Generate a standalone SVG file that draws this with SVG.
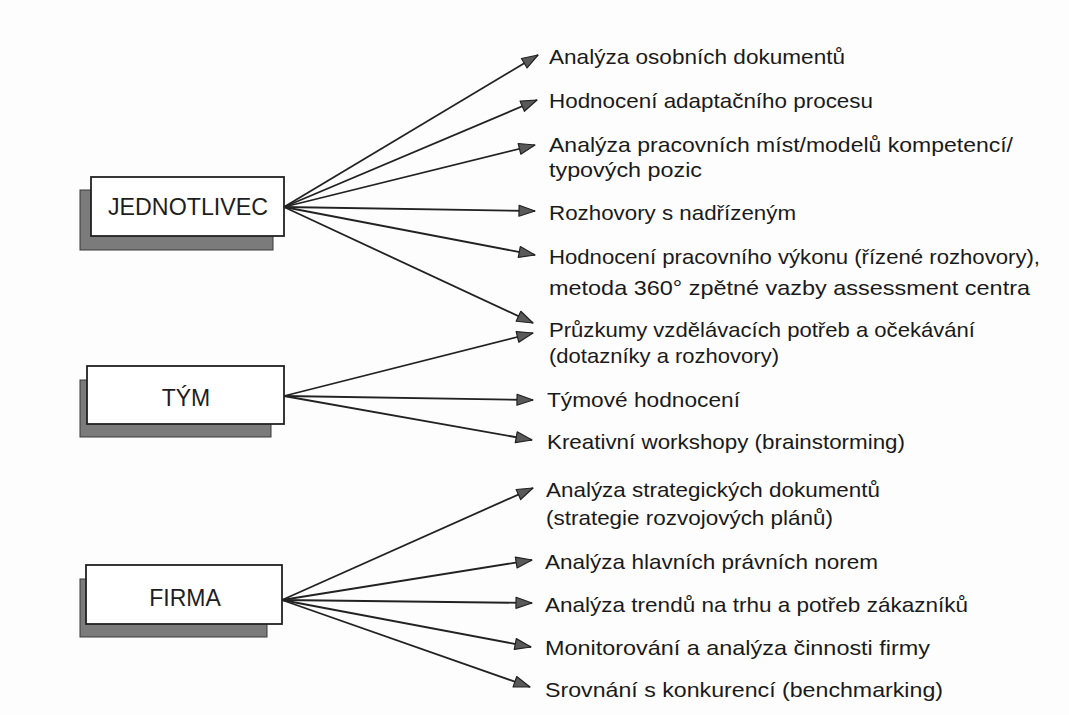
<svg xmlns="http://www.w3.org/2000/svg" width="1069" height="715" viewBox="0 0 1069 715">
<style>
.bg{fill:#fdfdfd}
.shadow{fill:#7b7b7b;stroke:#3a3a3a;stroke-width:1}
.box{fill:#ffffff;stroke:#222;stroke-width:1.8}
.lbl{font-family:"Liberation Sans",Arial,sans-serif;font-size:23px;fill:#1e1e1e;text-anchor:middle}
.t{font-family:"Liberation Sans",Arial,sans-serif;font-size:21px;fill:#1a1a1a}
.c{stroke:#222;stroke-width:1.8;fill:none;marker-end:url(#ah)}
</style>
<defs>
<marker id="ah" viewBox="0 0 18 14" refX="17" refY="7" markerWidth="18" markerHeight="14" markerUnits="userSpaceOnUse" orient="auto">
<path d="M1,1.5 L17,7 L1,12.5 Z" fill="#595959" stroke="#222" stroke-width="1.2" stroke-linejoin="round"/>
</marker>
</defs>
<rect class="bg" x="0" y="0" width="1069" height="715"/>
<g id="jednotlivec">
<rect class="shadow" x="80" y="190" width="193" height="60"/>
<rect class="box" x="91" y="177" width="193" height="59"/>
<text class="lbl" x="188" y="215" textLength="160" lengthAdjust="spacingAndGlyphs">JEDNOTLIVEC</text>
</g>
<g id="tym">
<rect class="shadow" x="80" y="380" width="191" height="57"/>
<rect class="box" x="87" y="366" width="197" height="58"/>
<text class="lbl" x="186" y="406">TÝM</text>
</g>
<g id="firma">
<rect class="shadow" x="80" y="579" width="187" height="58"/>
<rect class="box" x="86" y="565" width="196" height="59"/>
<text class="lbl" x="185" y="606">FIRMA</text>
</g>
<g id="connectors">
<line class="c" x1="284" y1="207" x2="538" y2="55"/>
<line class="c" x1="284" y1="207" x2="537" y2="100"/>
<line class="c" x1="284" y1="207" x2="535" y2="145"/>
<line class="c" x1="284" y1="207" x2="535" y2="211"/>
<line class="c" x1="284" y1="207" x2="535" y2="255"/>
<line class="c" x1="284" y1="207" x2="533" y2="323"/>
<line class="c" x1="284" y1="396" x2="533" y2="333"/>
<line class="c" x1="284" y1="396" x2="533" y2="400"/>
<line class="c" x1="284" y1="396" x2="532" y2="440"/>
<line class="c" x1="282" y1="600" x2="533" y2="488"/>
<line class="c" x1="282" y1="600" x2="532" y2="560"/>
<line class="c" x1="282" y1="600" x2="532" y2="603"/>
<line class="c" x1="282" y1="600" x2="531" y2="647"/>
<line class="c" x1="282" y1="600" x2="530" y2="687"/>
</g>
<g id="items">
<text class="t" x="549" y="64" textLength="296" lengthAdjust="spacingAndGlyphs">Analýza osobních dokumentů</text>
<text class="t" x="549" y="108" textLength="324" lengthAdjust="spacingAndGlyphs">Hodnocení adaptačního procesu</text>
<text class="t" x="549" y="152" textLength="464" lengthAdjust="spacingAndGlyphs">Analýza pracovních míst/modelů kompetencí/</text>
<text class="t" x="549" y="177" textLength="153" lengthAdjust="spacingAndGlyphs">typových pozic</text>
<text class="t" x="549" y="220" textLength="247" lengthAdjust="spacingAndGlyphs">Rozhovory s nadřízeným</text>
<text class="t" x="549" y="264" textLength="491" lengthAdjust="spacingAndGlyphs">Hodnocení pracovního výkonu (řízené rozhovory),</text>
<text class="t" x="549" y="295" textLength="481" lengthAdjust="spacingAndGlyphs">metoda 360° zpětné vazby assessment centra</text>
<text class="t" x="549" y="337" textLength="426" lengthAdjust="spacingAndGlyphs">Průzkumy vzdělávacích potřeb a očekávání</text>
<text class="t" x="549" y="363" textLength="230" lengthAdjust="spacingAndGlyphs">(dotazníky a rozhovory)</text>
<text class="t" x="547" y="407" textLength="193" lengthAdjust="spacingAndGlyphs">Týmové hodnocení</text>
<text class="t" x="547" y="449" textLength="358" lengthAdjust="spacingAndGlyphs">Kreativní workshopy (brainstorming)</text>
<text class="t" x="546" y="497" textLength="334" lengthAdjust="spacingAndGlyphs">Analýza strategických dokumentů</text>
<text class="t" x="546" y="525" textLength="287" lengthAdjust="spacingAndGlyphs">(strategie rozvojových plánů)</text>
<text class="t" x="545" y="569" textLength="333" lengthAdjust="spacingAndGlyphs">Analýza hlavních právních norem</text>
<text class="t" x="545" y="612" textLength="423" lengthAdjust="spacingAndGlyphs">Analýza trendů na trhu a potřeb zákazníků</text>
<text class="t" x="545" y="655" textLength="385" lengthAdjust="spacingAndGlyphs">Monitorování a analýza činnosti firmy</text>
<text class="t" x="545" y="697" textLength="398" lengthAdjust="spacingAndGlyphs">Srovnání s konkurencí (benchmarking)</text>
</g>
</svg>
